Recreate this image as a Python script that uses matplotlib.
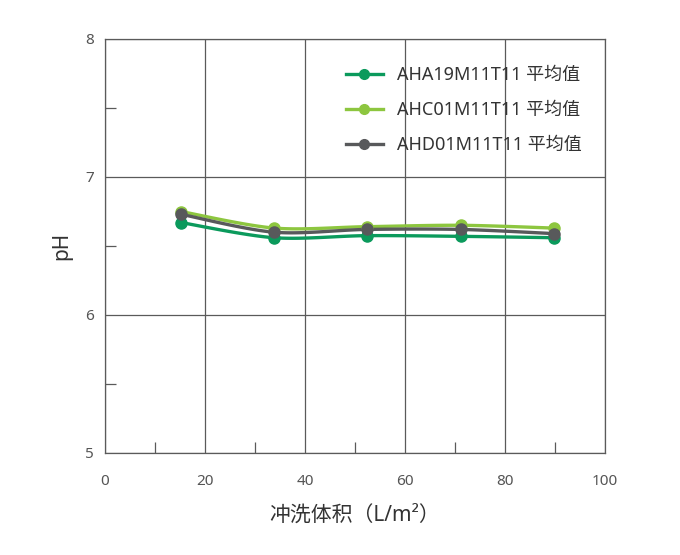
import numpy as np
import matplotlib
matplotlib.use("Agg")
import matplotlib.pyplot as plt
from matplotlib.ticker import MultipleLocator

plt.rcParams["font.family"] = ["Noto Sans", "Noto Sans CJK SC", "DejaVu Sans"]

# data
volume = [15.2, 33.8, 52.3, 71.1, 89.7]
ph_aha19 = [6.67, 6.56, 6.575, 6.57, 6.56]
ph_ahc01 = [6.75, 6.63, 6.64, 6.65, 6.63]
ph_ahd01 = [6.73, 6.60, 6.62, 6.62, 6.59]
series_names = ["AHA19M11T11 平均值", "AHC01M11T11 平均值", "AHD01M11T11 平均值"]
colors = ["#0b9a5c", "#8dc63f", "#58595b"]


def smooth(x, y, n=30, k=0.15):
    # bezier smoothing between points, just for the look of the curve
    x = np.asarray(x, float)
    y = np.asarray(y, float)
    xs, ys = [], []
    for i in range(len(x) - 1):
        p0 = np.array([x[i], y[i]])
        p3 = np.array([x[i + 1], y[i + 1]])
        prev = np.array([x[i - 1], y[i - 1]]) if i > 0 else p0
        nxt = np.array([x[i + 2], y[i + 2]]) if i + 2 < len(x) else p3
        p1 = p0 + k * (p3 - prev)
        p2 = p3 - k * (nxt - p0)
        t = np.linspace(0, 1, n)[:, None]
        pts = ((1 - t) ** 3) * p0 + 3 * ((1 - t) ** 2) * t * p1 + 3 * (1 - t) * t ** 2 * p2 + t ** 3 * p3
        xs.extend(pts[:, 0])
        ys.extend(pts[:, 1])
    return xs, ys


fig = plt.figure(figsize=(6.8, 5.55), dpi=100)
ax = fig.add_axes([105 / 680, 102 / 555, 500 / 680, 414 / 555])

for vals, name, c in zip([ph_aha19, ph_ahc01, ph_ahd01], series_names, colors):
    sx, sy = smooth(volume, vals)
    ax.plot(sx, sy, color=c, linewidth=2.4, zorder=3)
    ax.plot(volume, vals, "o", color=c, markersize=8, zorder=4)
    ax.plot([], [], "-o", color=c, linewidth=2.4, markersize=7, label=name)

ax.set_xlim(0, 100)
ax.set_ylim(5, 8)
ax.xaxis.set_major_locator(MultipleLocator(20))
ax.yaxis.set_major_locator(MultipleLocator(1))
ax.xaxis.set_minor_locator(MultipleLocator(10))
ax.yaxis.set_minor_locator(MultipleLocator(0.5))
ax.grid(True, which="major", color="#5a5a5a", linewidth=0.9)
ax.tick_params(which="major", length=0, labelsize=11, labelcolor="#555555")
ax.tick_params(axis="x", which="major", pad=15)
ax.tick_params(axis="y", which="major", pad=8)
ax.tick_params(which="minor", direction="in", length=8, width=0.9, color="#5a5a5a",
               top=False, right=False)
for sp in ax.spines.values():
    sp.set_color("#5a5a5a")
    sp.set_linewidth(0.9)

ax.set_xlabel("冲洗体积（L/m²）", fontsize=15, color="#333333", labelpad=12)
ax.set_ylabel("pH", fontsize=15, color="#333333", labelpad=9)

ax.legend(loc="upper right", bbox_to_anchor=(0.986, 0.974), frameon=False, fontsize=13,
          labelspacing=0.95, handlelength=2.0, handletextpad=0.8, labelcolor="#333333")

fig.savefig("out.png", dpi=100)
